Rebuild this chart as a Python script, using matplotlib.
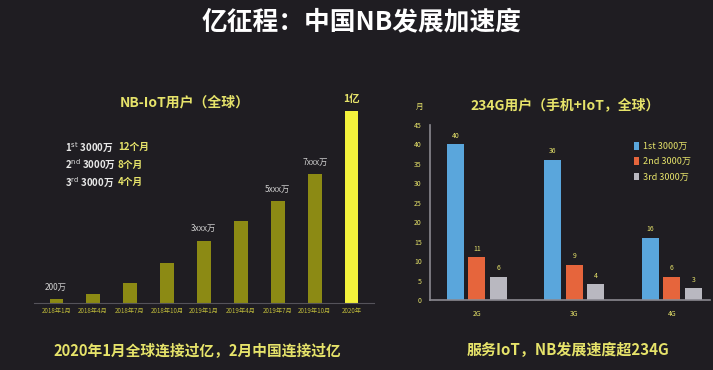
import numpy as np
import matplotlib.pyplot as plt

plt.rcParams['font.family'] = ['Noto Sans CJK SC', 'DejaVu Sans']

# NB-IoT users (万)
nb_dates = ['2018年1月', '2018年4月', '2018年7月', '2018年10月', '2019年1月',
            '2019年4月', '2019年7月', '2019年10月', '2020年']
nb_users = [200, 480, 1050, 2100, 3250, 4250, 5300, 6700, 10000]
nb_labels = {0: '200万', 4: '3xxx万', 6: '5xxx万', 7: '7xxx万', 8: '1亿'}

# months needed for each 3000万 step
gens = ['2G', '3G', '4G']
first_3000 = [40, 36, 16]
second_3000 = [11, 9, 6]
third_3000 = [6, 4, 3]
series_names = ['1st 3000万', '2nd 3000万', '3rd 3000万']

BG = '#1f1d22'
YEL = '#e6e36a'
OLIVE = '#8c8a14'
BRIGHT = '#f4f23c'
BLUE = '#5aa6dc'
ORANGE = '#e6653c'
GRAY = '#b9b8c0'

fig = plt.figure(figsize=(7.13, 3.70), dpi=100, facecolor=BG)
W, H = 713, 370

fig.text(362 / W, 1 - 22 / H, '亿征程：中国NB发展加速度', color='white',
         fontsize=18.5, fontweight='bold', ha='center', va='center')

# ---- left chart
ax1 = fig.add_axes([34 / W, 67 / H, 340 / W, 192 / H])
ax1.set_facecolor(BG)
x = np.arange(len(nb_users))
colors = [OLIVE] * (len(nb_users) - 1) + [BRIGHT]
ax1.bar(x, nb_users, width=0.36, color=colors)
ax1.set_xlim(-0.6, len(nb_users) - 0.4)
ax1.set_ylim(0, 10000)
ax1.set_yticks([])
for s in ['top', 'right', 'left']:
    ax1.spines[s].set_visible(False)
ax1.spines['bottom'].set_color('#55535a')
ax1.set_xticks(x)
ax1.set_xticklabels(nb_dates, fontsize=4.5, color='#bcb83a')
ax1.tick_params(axis='x', length=0, pad=3)
for i, lab in nb_labels.items():
    if i == 8:
        ax1.text(i, nb_users[i] + 350, lab, color=YEL, fontsize=7.5,
                 fontweight='bold', ha='center', va='bottom')
    else:
        ax1.text(i, nb_users[i] + 400, lab, color='#cfcfcf', fontsize=6,
                 ha='center', va='bottom')

fig.text(185 / W, 1 - 103 / H, 'NB-IoT用户（全球）', color=YEL, fontsize=10,
         fontweight='bold', ha='center', va='center')

notes = [('1', 'st', '12个月'), ('2', 'nd', '8个月'), ('3', 'rd', '4个月')]
for k, (n, suf, m) in enumerate(notes):
    yy = 1 - (147 + k * 17.5) / H
    fig.text(65 / W, yy, n + r'$^{\mathrm{' + suf + '}}$' + ' 3000万 ', color='#e8e8e8',
             fontsize=7, fontweight='bold', ha='left', va='center')
    fig.text(118 / W, yy, m, color=YEL, fontsize=7, fontweight='bold',
             ha='left', va='center')

fig.text(197 / W, 1 - 350 / H, '2020年1月全球连接过亿，2月中国连接过亿', color=YEL,
         fontsize=10.6, fontweight='bold', ha='center', va='center')

# ---- right chart
ax2 = fig.add_axes([430 / W, 70 / H, 280 / W, 175 / H])
ax2.set_facecolor(BG)
g = np.arange(len(gens))
bw = 0.175
off = 0.22
for vals, col, o, name in zip([first_3000, second_3000, third_3000],
                              [BLUE, ORANGE, GRAY], [-off, 0, off], series_names):
    ax2.bar(g + o, vals, width=bw, color=col, label=name)
    for xi, v in zip(g + o, vals):
        ax2.text(xi, v + 1.2, str(v), color=YEL, fontsize=5, ha='center',
                 va='bottom')
ax2.set_xlim(-0.48, 2.39)
ax2.set_ylim(0, 45)
ax2.set_yticks(range(0, 46, 5))
ax2.tick_params(axis='y', length=0, labelsize=5, labelcolor=YEL, pad=6)
ax2.set_xticks(g)
ax2.set_xticklabels(gens, fontsize=5, color=YEL)
ax2.tick_params(axis='x', length=0, pad=7)
for s in ['top', 'right']:
    ax2.spines[s].set_visible(False)
for s in ['left', 'bottom']:
    ax2.spines[s].set_color('#8a8990')
    ax2.spines[s].set_linewidth(1.2)
leg = ax2.legend(loc='upper right', bbox_to_anchor=(0.96, 0.95), frameon=False,
                 fontsize=6.5, handlelength=0.6, handleheight=0.9,
                 labelspacing=0.7, handletextpad=0.4)
for t in leg.get_texts():
    t.set_color(YEL)

fig.text(420 / W, 1 - 107 / H, '月', color=YEL, fontsize=5.5, ha='center',
         va='center')
fig.text(565 / W, 1 - 105 / H, '234G用户（手机+IoT，全球）', color=YEL,
         fontsize=10, fontweight='bold', ha='center', va='center')
fig.text(568 / W, 1 - 350 / H, '服务IoT，NB发展速度超234G', color=YEL,
         fontsize=10.8, fontweight='bold', ha='center', va='center')

fig.savefig('out.png', dpi=100, facecolor=BG)
